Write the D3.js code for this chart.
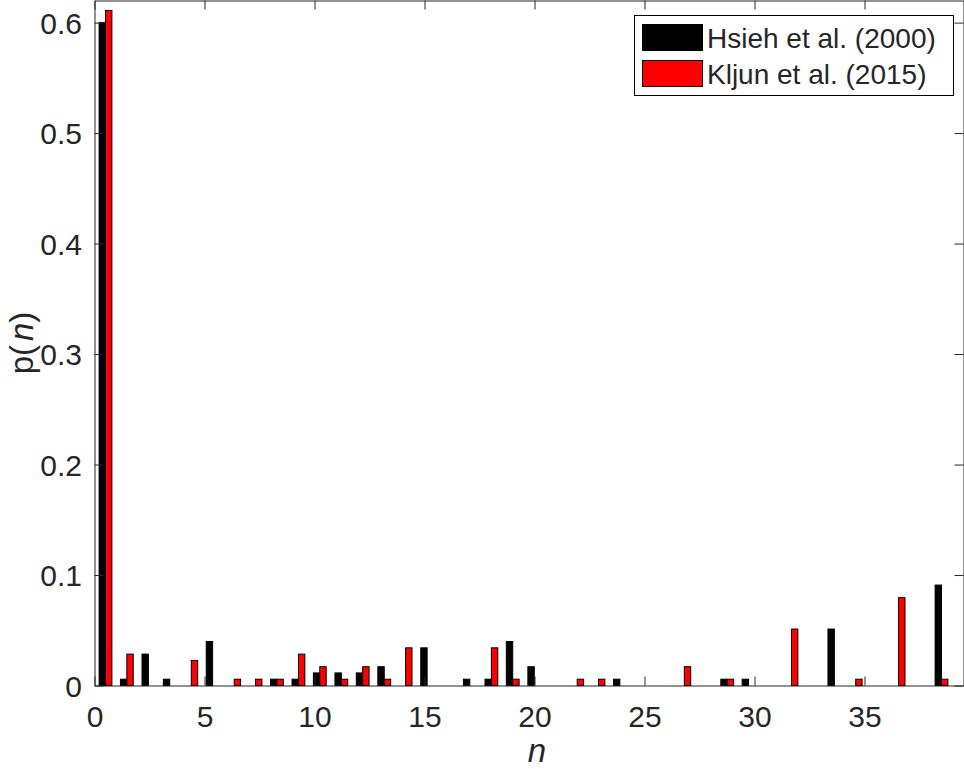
<!DOCTYPE html>
<html>
<head>
<meta charset="utf-8">
<script src="https://cdn.jsdelivr.net/npm/d3@7"></script>
<style>
  body { margin: 0; background: #fff; }
  text { font-family: "Liberation Sans", Arial, Helvetica, sans-serif; fill: #262626; }
</style>
</head>
<body>
<div class="chart"></div>
<script>
var svgWidth = 964;
var svgHeight = 769;

var margin = {
  top: 0.5,
  right: 0.5,
  bottom: 83.5,
  left: 94.5
};

var width = svgWidth - margin.left - margin.right;
var height = svgHeight - margin.top - margin.bottom;

// bin centres (n)
var binCenters = [0.5, 1.47, 2.45, 3.42, 4.4, 5.37, 6.35, 7.32, 8.29, 9.27,
  10.24, 11.22, 12.19, 13.17, 14.14, 15.12, 16.09, 17.06, 18.04, 19.01,
  19.99, 20.96, 21.94, 22.91, 23.88, 24.86, 25.83, 26.81, 27.78, 28.76,
  29.73, 30.71, 31.68, 32.65, 33.63, 34.6, 35.58, 36.55, 37.53, 38.5];

// p(n), Hsieh et al. (2000)
var hsieh = [0.6, 0.0057, 0.0284, 0.0057, 0, 0.0398, 0, 0, 0.0057, 0.0057,
  0.0114, 0.0114, 0.0114, 0.017, 0, 0.0341, 0, 0.0057, 0.0057, 0.0398,
  0.017, 0, 0, 0, 0.0057, 0, 0, 0, 0, 0.0057,
  0.0057, 0, 0, 0, 0.0511, 0, 0, 0, 0, 0.0909];

// p(n), Kljun et al. (2015)
var kljun = [0.611, 0.0284, 0, 0, 0.0227, 0, 0.0057, 0.0057, 0.0057, 0.0284,
  0.017, 0.0057, 0.017, 0.0057, 0.0341, 0, 0, 0, 0.0341, 0.0057,
  0, 0, 0.0057, 0.0057, 0, 0, 0, 0.017, 0, 0.0057,
  0, 0, 0.0511, 0, 0, 0.0057, 0, 0.0795, 0, 0.0057];

var seriesNames = ["Hsieh et al. (2000)", "Kljun et al. (2015)"];
var seriesColors = ["#000000", "#ff0000"];

var xTicks = [0, 5, 10, 15, 20, 25, 30, 35];
var yTicks = [0, 0.1, 0.2, 0.3, 0.4, 0.5, 0.6];

var svg = d3
  .select(".chart")
  .append("svg")
  .attr("width", svgWidth)
  .attr("height", svgHeight);

var chartGroup = svg.append("g")
  .attr("transform", `translate(${margin.left}, ${margin.top})`);

// scales
var xLinearScale = d3.scaleLinear()
  .domain([0, 39.5])
  .range([0, width]);

var yLinearScale = d3.scaleLinear()
  .domain([0, 0.62])
  .range([height, 0]);

// each bar is 0.3 of the bin spacing wide
var barW = xLinearScale(0.3 * (binCenters[1] - binCenters[0])) - xLinearScale(0);

var barData = binCenters.map(function(c, i) {
  return { c: c, h: hsieh[i], k: kljun[i] };
});

// Hsieh bars (left of centre)
chartGroup.selectAll(".bar-h")
  .data(barData)
  .enter()
  .append("rect")
  .attr("class", "bar-h")
  .attr("x", d => xLinearScale(d.c) - barW)
  .attr("y", d => yLinearScale(d.h))
  .attr("width", barW)
  .attr("height", d => height - yLinearScale(d.h))
  .attr("fill", seriesColors[0])
  .attr("stroke", "#000")
  .attr("stroke-width", 1);

// Kljun bars (right of centre)
chartGroup.selectAll(".bar-k")
  .data(barData)
  .enter()
  .append("rect")
  .attr("class", "bar-k")
  .attr("x", d => xLinearScale(d.c))
  .attr("y", d => yLinearScale(d.k))
  .attr("width", barW)
  .attr("height", d => height - yLinearScale(d.k))
  .attr("fill", seriesColors[1])
  .attr("stroke", "#000")
  .attr("stroke-width", 1);

// axes, ticks pointing inward
var bottomAxis = d3.axisBottom(xLinearScale).tickValues(xTicks).tickSizeInner(-9).tickSizeOuter(0).tickPadding(20);
var topAxis = d3.axisTop(xLinearScale).tickValues(xTicks).tickSizeInner(-9).tickSizeOuter(0).tickFormat("");
var leftAxis = d3.axisLeft(yLinearScale).tickValues(yTicks).tickSizeInner(-9).tickSizeOuter(0).tickPadding(12.5)
  .tickFormat(d => d === 0 ? "0" : d3.format(".1f")(d));
var rightAxis = d3.axisRight(yLinearScale).tickValues(yTicks).tickSizeInner(-9).tickSizeOuter(0).tickFormat("");

var xAxis = chartGroup.append("g")
  .attr("transform", `translate(0, ${height})`)
  .call(bottomAxis);

chartGroup.append("g").call(topAxis);

var yAxis = chartGroup.append("g").call(leftAxis);

chartGroup.append("g")
  .attr("transform", `translate(${width}, 0)`)
  .call(rightAxis);

chartGroup.selectAll(".domain").attr("stroke", "#262626");
chartGroup.selectAll(".tick line").attr("stroke", "#262626");
chartGroup.selectAll(".tick text")
  .attr("font-size", "30px")
  .attr("fill", "#262626")
  .style("font-family", "'Liberation Sans', Arial, sans-serif");
yAxis.selectAll(".tick text").attr("dy", "0.36em");

// axis labels
chartGroup.append("text")
  .attr("x", width / 2 + 8)
  .attr("y", height + 76)
  .attr("text-anchor", "middle")
  .attr("font-size", "33px")
  .attr("font-style", "italic")
  .text("n");

var yLabel = chartGroup.append("text")
  .attr("transform", `translate(${33 - margin.left}, ${height / 2}) rotate(-90)`)
  .attr("text-anchor", "middle")
  .attr("font-size", "33px");
yLabel.append("tspan").text("p(");
yLabel.append("tspan").attr("font-style", "italic").attr("dx", 4).text("n");
yLabel.append("tspan").text(")");

// legend
var legend = svg.append("g");

legend.append("rect")
  .attr("x", 634.5)
  .attr("y", 15.5)
  .attr("width", 319)
  .attr("height", 80)
  .attr("fill", "#fff")
  .attr("stroke", "#000")
  .attr("stroke-width", 1);

seriesNames.forEach(function(name, i) {
  legend.append("rect")
    .attr("x", 642.5)
    .attr("y", 24.5 + i * 36)
    .attr("width", 60)
    .attr("height", 26)
    .attr("fill", seriesColors[i])
    .attr("stroke", "#000")
    .attr("stroke-width", 1);

  legend.append("text")
    .attr("x", 707)
    .attr("y", 48 + i * 36)
    .attr("font-size", "28px")
    .attr("fill", "#000")
    .text(name);
});
</script>
</body>
</html>
